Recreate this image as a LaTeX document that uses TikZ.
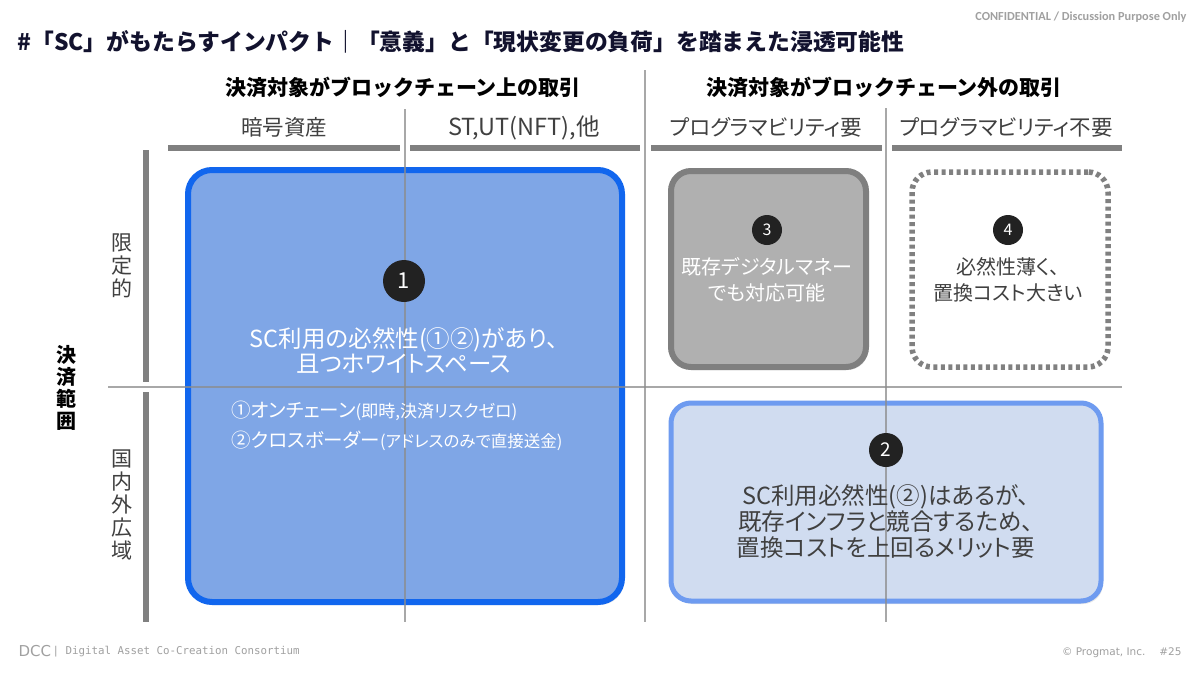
\documentclass[tikz,border=0pt]{standalone}
\usepackage{fontspec}
\setmainfont{Noto Sans CJK JP}[RawFeature=+palt]
\newfontfamily\jpfull{Noto Sans CJK JP}
\newfontfamily\monofont{DejaVu Sans Mono}
\newfontfamily\confont{Carlito}
\newfontfamily\footfont{DejaVu Sans}
\usetikzlibrary{shadows}
\definecolor{titlec}{HTML}{12122E}
\definecolor{textg}{HTML}{404040}
\definecolor{barg}{HTML}{808080}
\definecolor{lineg}{HTML}{8C8C8C}
\definecolor{bluefill}{HTML}{7FA6E6}
\definecolor{blueedge}{HTML}{1166EE}
\definecolor{lbluefill}{HTML}{D0DCF0}
\definecolor{lblueedge}{HTML}{6E9BF0}
\definecolor{greyfill}{HTML}{B0B0B0}
\definecolor{greyedge}{HTML}{7F7F7F}
\definecolor{circfill}{HTML}{222222}
\definecolor{footg}{HTML}{A0A0A0}
\tikzset{
  bar/.style={draw=barg, line width=6pt},
  grid/.style={draw=lineg, line width=1.2pt, opacity=0.75},
  quad/.style={rectangle, minimum width=#1, inner sep=0pt, outer sep=0pt},
  numcirc/.style={circle, fill=circfill, text=white, inner sep=0pt, minimum size=#1},
  sub/.style={text=textg, anchor=base, font=\fontsize{21.5}{21.5}\selectfont},
  hdr/.style={anchor=base, font=\jpfull\fontsize{21}{21}\selectfont\bfseries},
  vlab/.style={text=textg, align=center, font=\fontsize{21}{23}\selectfont},
  shade/.style={drop shadow={opacity=0.18, shadow xshift=2pt, shadow yshift=-3pt}},
}
\begin{document}
\begin{tikzpicture}[x=1pt,y=-1pt]
\useasboundingbox[fill=white] (0,0) rectangle (1200,675);

% title & header info
\node[anchor=base west, text=titlec, font=\jpfull\fontsize{22.8}{22.8}\selectfont\bfseries] (title) at (14,50) {\#「SC」がもたらすインパクト｜「意義」と「現状変更の負荷」を踏まえた浸透可能性};
\node[anchor=base east, text=footg, font=\confont\fontsize{12.3}{12.3}\selectfont\bfseries] (conf) at (1190,20) {CONFIDENTIAL / Discussion Purpose Only};

% column headers
\node[hdr] (h1) at (403,95) {決済対象がブロックチェーン上の取引};
\node[hdr] (h2) at (884,95) {決済対象がブロックチェーン外の取引};
\node[sub] (s1) at (284,135) {暗号資産};
\node[sub, font=\fontsize{23.5}{23.5}\selectfont] (s2) at (524,135) {ST,UT(NFT),他};
\node[sub] (s3) at (766,135) {プログラマビリティ要};
\node[sub] (s4) at (1006,135) {プログラマビリティ不要};

% bars under subheaders
\coordinate (b1a) at (168,148); \coordinate (b1b) at (400,148);
\coordinate (b2a) at (410,148); \coordinate (b2b) at (640,148);
\coordinate (b3a) at (651,148); \coordinate (b3b) at (882,148);
\coordinate (b4a) at (892,148); \coordinate (b4b) at (1122,148);
\draw[bar] (b1a) -- (b1b);
\draw[bar] (b2a) -- (b2b);
\draw[bar] (b3a) -- (b3b);
\draw[bar] (b4a) -- (b4b);

% left axis
\coordinate (l1a) at (146,150); \coordinate (l1b) at (146,382);
\coordinate (l2a) at (146,392); \coordinate (l2b) at (146,622);
\draw[bar] (l1a) -- (l1b);
\draw[bar] (l2a) -- (l2b);
\node[vlab] (lim) at (122,266) {限\\定\\的};
\node[vlab] (wide) at (122,505) {国\\内\\外\\広\\域};
\node[align=center, font=\fontsize{20}{22}\selectfont\bfseries] (range) at (66,388) {決\\済\\範\\囲};

% boxes
\node[quad=434pt, minimum height=432pt, fill=bluefill, draw=blueedge, line width=6pt, rounded corners=24pt, shade] (box1) at (405,386) {};
\node[quad=195pt, minimum height=196pt, fill=greyfill, draw=greyedge, line width=6pt, rounded corners=20pt, shade] (box3) at (768.5,269) {};
\node[quad=196pt, minimum height=195pt, fill=white, draw=barg, line width=5.5pt, dash pattern=on 4pt off 3.5pt, rounded corners=20pt] (box4) at (1010,269.5) {};
\node[quad=430pt, minimum height=198pt, fill=lbluefill, draw=lblueedge, line width=5pt, rounded corners=20pt, shade] (box2) at (886,502) {};

% grid lines
\coordinate (v1t) at (405,109); \coordinate (v1b) at (405,622);
\coordinate (v2t) at (645,70);  \coordinate (v2b) at (645,622);
\coordinate (v3t) at (886,108); \coordinate (v3b) at (886,622);
\coordinate (hl) at (108,387);  \coordinate (hr) at (1122,387);
\draw[grid] (v1t) -- (v1b);
\draw[grid] (v2t) -- (v2b);
\draw[grid] (v3t) -- (v3b);
\draw[grid] (hl) -- (hr);

% box 1 content
\node[numcirc=42pt, font=\fontsize{22}{22}\selectfont] (n1) at (404,281) {1};
\node[text=white, align=center, font=\fontsize{23.5}{25}\selectfont] (t1) at (404,350) {SC利用の必然性(①②)があり、\\且つホワイトスペース};
\node[text=white, align=left, anchor=west, font=\fontsize{19.5}{30}\selectfont] (t1b) at (228,426) {①オンチェーン{\fontsize{17}{30}\selectfont(即時,決済リスクゼロ)}\\②クロスボーダー{\fontsize{16.5}{30}\selectfont(アドレスのみで直接送金)}};

% box 3 content
\node[numcirc=30pt, font=\fontsize{16}{16}\selectfont] (n3) at (767,230) {3};
\node[text=white, align=center, font=\fontsize{20}{26}\selectfont] (t3) at (767,280) {既存デジタルマネー\\でも対応可能};

% box 4 content
\node[numcirc=30pt, font=\fontsize{16}{16}\selectfont] (n4) at (1008,230) {4};
\node[text=textg, align=center, font=\fontsize{20}{26}\selectfont] (t4) at (1008,280) {必然性薄く、\\置換コスト大きい};

% box 2 content
\node[numcirc=34pt, font=\fontsize{19}{19}\selectfont] (n2) at (886,450) {2};
\node[text=textg, align=center, font=\fontsize{23.5}{26}\selectfont] (t2) at (886,521) {SC利用必然性(②)はあるが、\\既存インフラと競合するため、\\置換コストを上回るメリット要};

% footer
\node[anchor=base west, text=footg, font=\footfont\fontsize{15}{15}\selectfont] (dcc) at (15,656) {DCC};
\node[anchor=base west, text=footg, font=\monofont\fontsize{10.8}{10.8}\selectfont] (dac) at (49,654) {\textbar\ Digital Asset Co-Creation Consortium};
\node[anchor=base east, text=footg, font=\footfont\fontsize{10.5}{10.5}\selectfont] (copy) at (1185,655) {© Progmat, Inc.\quad\ \#25};
\end{tikzpicture}
\end{document}
